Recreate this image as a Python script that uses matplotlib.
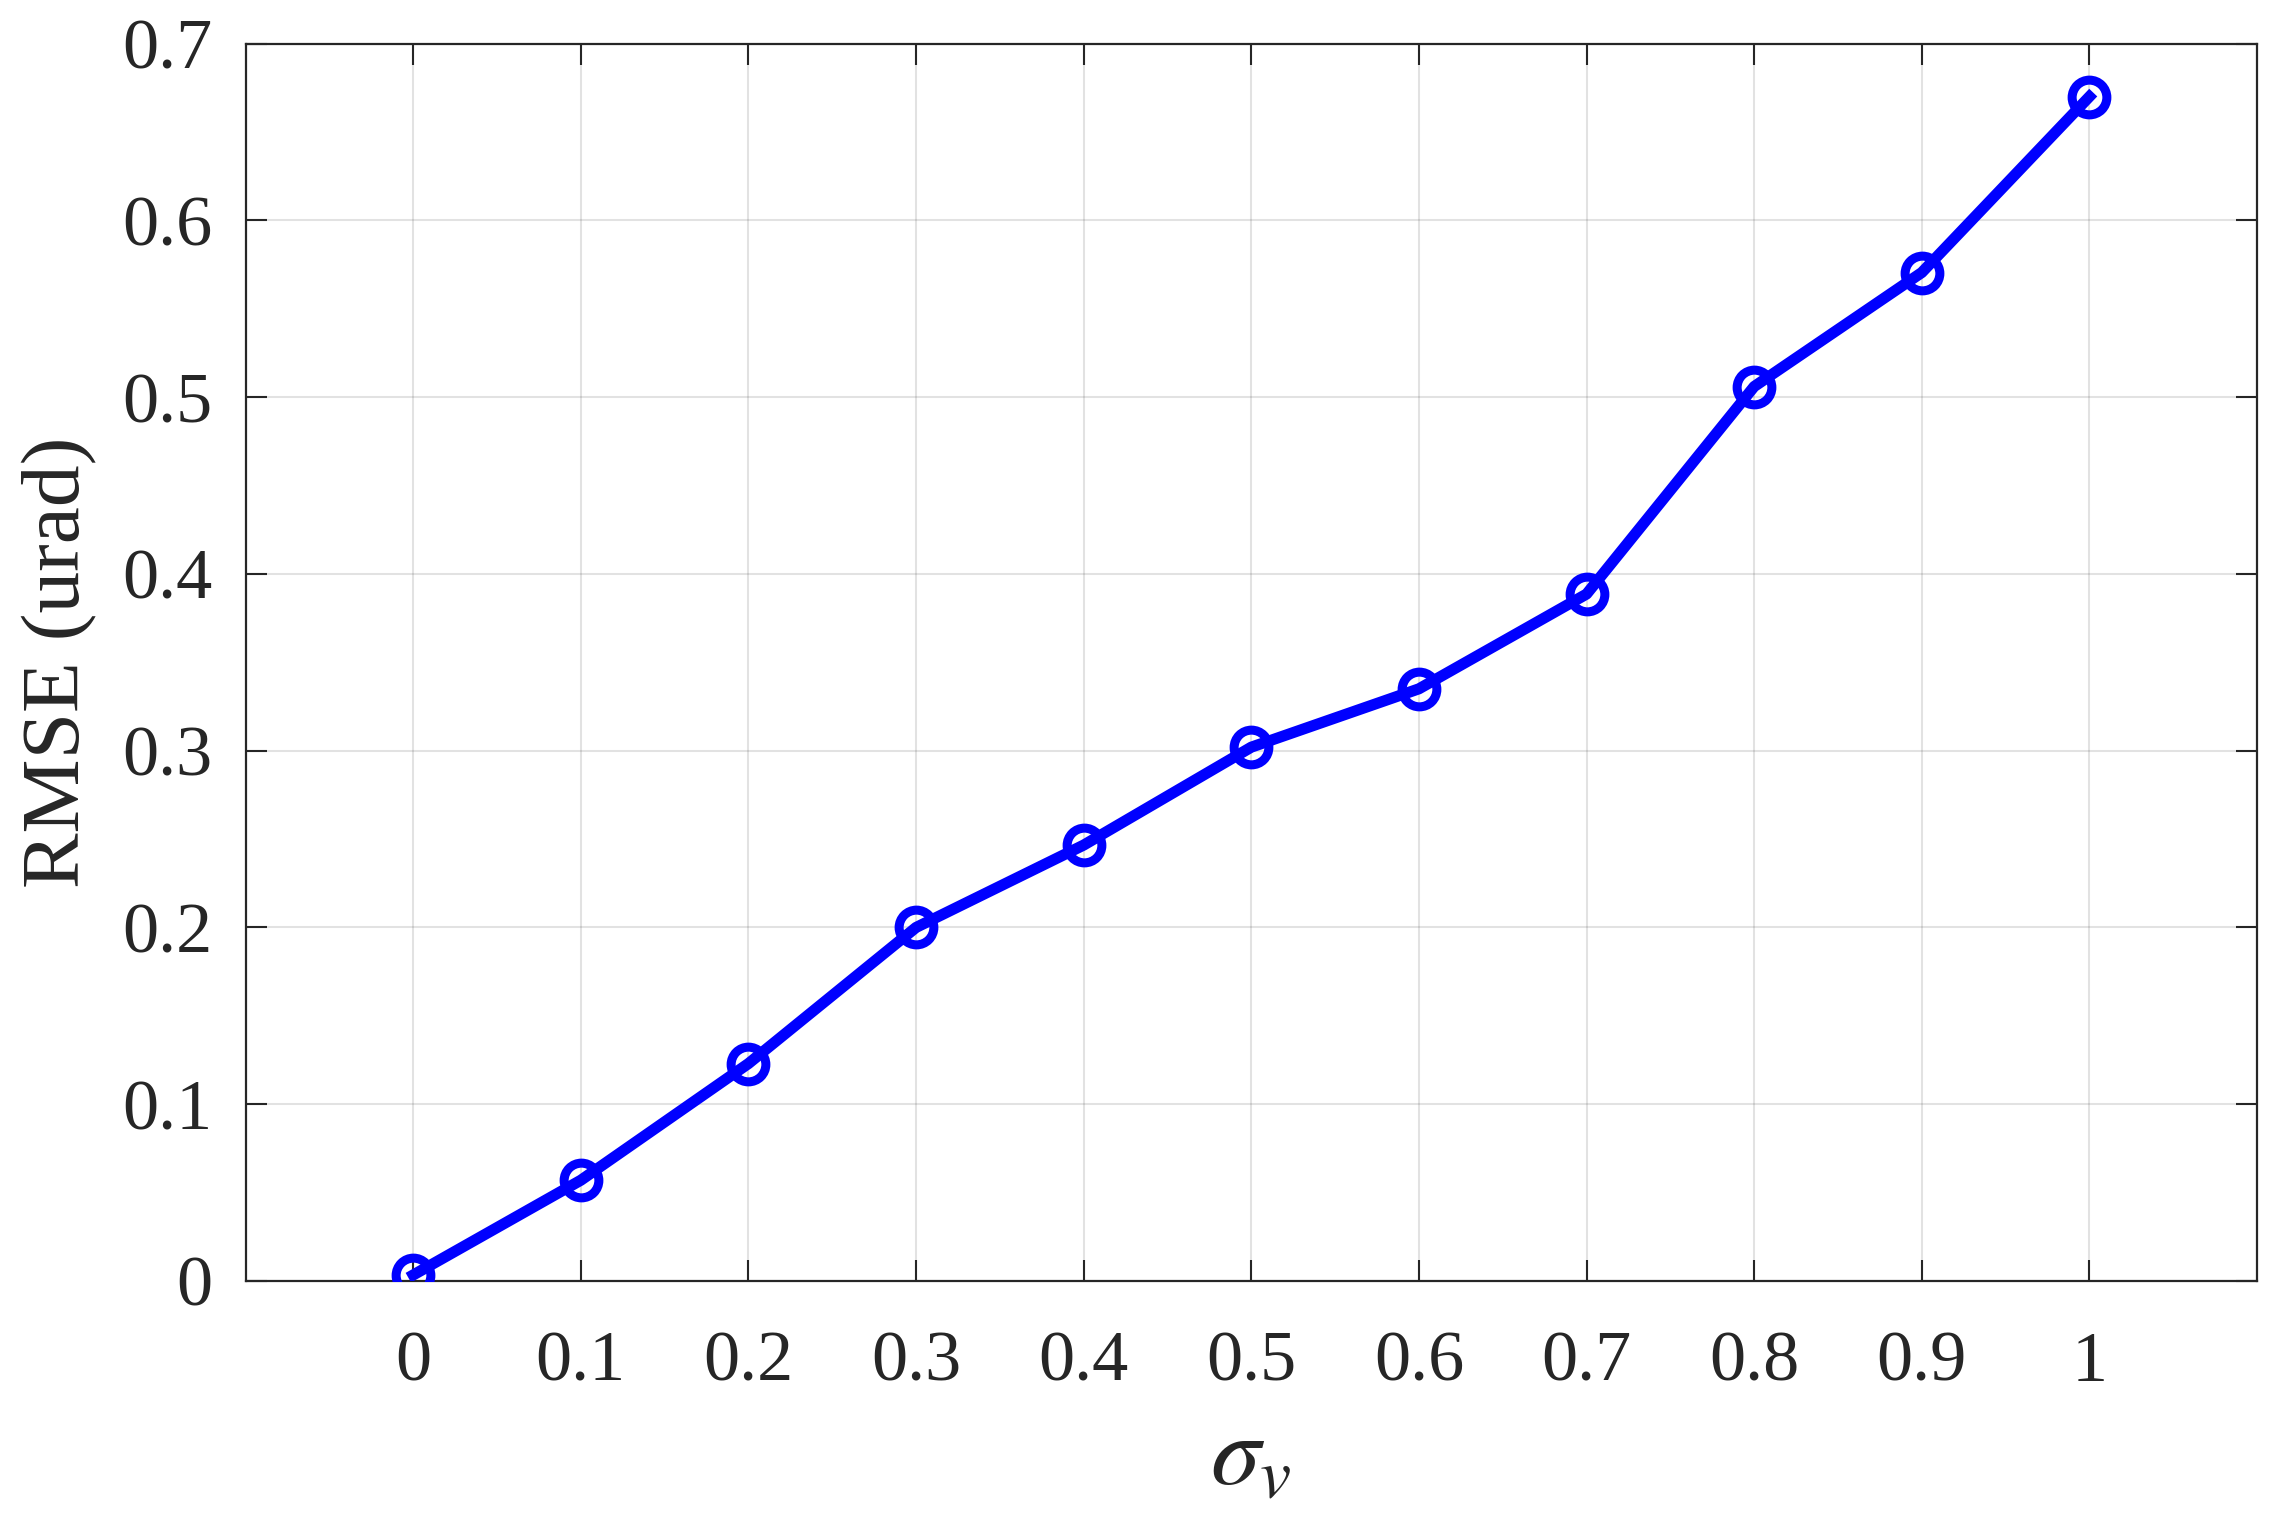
import matplotlib
matplotlib.use("Agg")
import matplotlib.pyplot as plt
import numpy as np

# sigma_v values and the RMSE
sigma_v = [0, 0.1, 0.2, 0.3, 0.4, 0.5, 0.6, 0.7, 0.8, 0.9, 1.0]
rmse = [0.0034, 0.057, 0.123, 0.200, 0.2466, 0.302, 0.335, 0.3886, 0.506, 0.5705, 0.670]

xticks = [0, 0.1, 0.2, 0.3, 0.4, 0.5, 0.6, 0.7, 0.8, 0.9, 1]
xticklabels = ['0', '0.1', '0.2', '0.3', '0.4', '0.5', '0.6', '0.7', '0.8', '0.9', '1']
yticks = [0, 0.1, 0.2, 0.3, 0.4, 0.5, 0.6, 0.7]
yticklabels = ['0', '0.1', '0.2', '0.3', '0.4', '0.5', '0.6', '0.7']

plt.rcParams['font.family'] = ['Liberation Serif', 'DejaVu Serif']
plt.rcParams['mathtext.fontset'] = 'stix'

fig = plt.figure(figsize=(22.78, 15.14), dpi=100)
ax = fig.add_axes([0.1078, 0.1539, 0.9908 - 0.1078, 0.9712 - 0.1539])

ax.plot(sigma_v, rmse, color=(0, 0, 1), linewidth=8, marker='o',
        markersize=25, markerfacecolor='none', markeredgewidth=6.5,
        markeredgecolor=(0, 0, 1), zorder=3)

ax.set_xlim(-0.1, 1.1)
ax.set_ylim(0, 0.7)
ax.set_xticks(xticks)
ax.set_xticklabels(xticklabels)
ax.set_yticks(yticks)
ax.set_yticklabels(yticklabels)

ax.grid(True, color='#262626', alpha=0.13, linewidth=1.5)
ax.set_axisbelow(True)

for s in ax.spines.values():
    s.set_color('#262626')
    s.set_linewidth(1.6)

ax.tick_params(direction='in', length=15, width=1.5, colors='#262626',
               labelcolor='#262626', labelsize=52, top=True, right=True)
ax.tick_params(axis='x', pad=36)
ax.tick_params(axis='y', pad=24)

ax.set_xlabel(r'$\sigma_v$', fontsize=72, labelpad=14, color='#262626')
ax.set_ylabel('RMSE (urad)', fontsize=60, labelpad=18, color='#262626')

fig.savefig('out.png', dpi=100, facecolor='white')
